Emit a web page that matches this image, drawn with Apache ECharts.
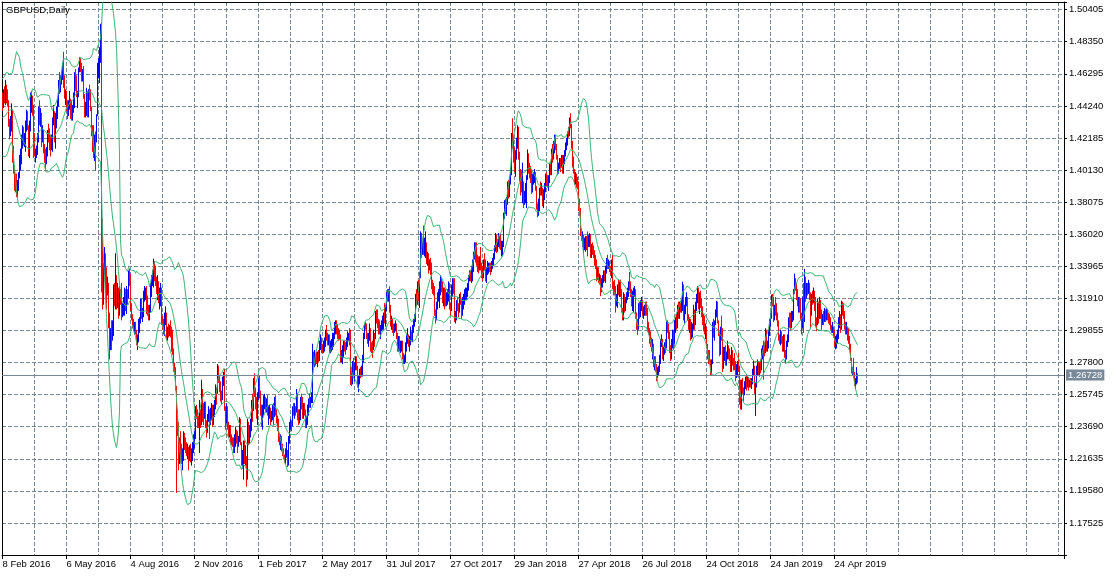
<!DOCTYPE html>
<html><head><meta charset="utf-8">
<script src="https://cdn.jsdelivr.net/npm/echarts@6/dist/echarts.min.js"></script>
<style>html,body{margin:0;padding:0;background:#fff}#c{width:1116px;height:576px}</style>
</head><body><div id="c"></div>
<script>
// Prices are stored in units of 0.0001 (e.g. 14425 = 1.4425)
// 19 daily closes before the first drawn bar (needed for the 20-period Bollinger bands)
const preCloses = [14430,14420,14390,14250,14270,14180,14160,14230,14260,14260,14340,14260,14350,14250,14420,14410,14600,14600,14500];

const closes = [
/*Feb16*/14425,14495,14470,14510,14500,14450,14310,14290,14300,14400,14140,14020,13960,13930,13860,13920,
/*Mar16*/13990,14060,14130,14220,14260,14190,14200,14270,14380,14290,14140,14280,14460,14480,14400,14210,14120,14130,14140,14230,14400,14360,14370,
/*Apr16*/14230,14250,14160,14110,14070,14120,14240,14235,14200,14190,14200,14330,14380,14210,14350,14400,14440,14580,14540,14580,14610,
/*May16*/14680,14600,14500,14510,14430,14380,14420,14450,14420,14370,14400,14440,14610,14600,14500,14505,14650,14700,14680,14620,14640,14490,
/*Jun16*/14380,14430,14520,14370,14520,14500,14410,14250,14240,14120,14200,14195,14360,14680,14690,14710,14880,13680,13220,13350,13440,13310,
/*Jul16*/13280,13285,13030,12940,12950,12945,12980,13260,13180,13340,13140,13260,13090,13230,13210,13100,13120,13130,13220,13170,13230,
/*Aug16*/13200,13340,13330,13120,13070,13050,13000,13010,12970,12910,12930,13040,13050,13170,13080,13090,13200,13230,13240,13190,13120,13070,13130,
/*Sep16*/13270,13300,13310,13410,13370,13300,13260,13300,13180,13220,13250,13060,13030,12990,13060,13090,12960,12980,12975,12990,12970,12965,
/*Oct16*/12840,12730,12720,12610,12430,12370,12190,12260,12190,12180,12190,12300,12250,12240,12200,12230,12180,12220,12180,12190,12240,
/*Nov16*/12260,12300,12480,12475,12390,12380,12400,12390,12590,12470,12450,12480,12400,12350,12420,12450,12410,12470,12480,12400,12480,12490,
/*Dec16*/12590,12580,12740,12680,12620,12560,12555,12660,12680,12490,12400,12490,12370,12330,12360,12280,12275,12270,12220,12290,12340,
/*Jan17*/12290,12260,12290,12410,12270,12160,12170,12200,12160,12180,12060,12400,12290,12340,12370,12490,12480,12670,12580,12550,12440,12560,
/*Feb17*/12630,12580,12480,12430,12490,12520,12540,12480,12520,12460,12470,12480,12410,12450,12460,12450,12540,12470,12410,12405,
/*Mar17*/12300,12270,12300,12230,12210,12170,12160,12190,12210,12140,12290,12380,12400,12370,12480,12475,12490,12460,12560,12430,12410,12460,12550,
/*Apr17*/12540,12450,12490,12470,12380,12410,12480,12520,12515,12550,12570,12840,12790,12810,12800,12790,12820,12815,12880,12940,
/*May17*/12870,12865,12870,12910,12970,12940,12935,12950,12880,12885,12900,12905,12950,13000,13030,12990,12960,12955,12945,12800,12840,12850,12890,
/*Jun17*/12885,12875,12920,12940,12950,12945,12740,12650,12740,12735,12760,12780,12750,12640,12660,12720,12710,12720,12790,12950,13020,13015,
/*Jul17*/12950,12930,12950,13000,12880,12875,12865,12950,12945,13100,13050,13040,13000,12990,13000,13030,13050,13080,13070,13130,13210,
/*Aug17*/13205,13230,13120,13030,13040,13000,12995,13000,13010,12950,12880,12890,12870,12880,12890,12830,12790,12800,12880,12930,12940,12910,12930,
/*Sep17*/12970,12950,12990,13040,13050,13200,13170,13270,13200,13330,13590,13500,13510,13500,13510,13540,13450,13460,13390,13410,13390,
/*Oct17*/13280,13260,13255,13100,13060,13150,13200,13230,13270,13290,13270,13190,13200,13190,13185,13200,13210,13270,13140,13130,13260,13280,
/*Nov17*/13275,13060,13070,13150,13140,13130,13190,13185,13100,13170,13190,13200,13220,13230,13270,13320,13340,13330,13350,13410,13460,13520,
/*Dec17*/13480,13420,13410,13390,13420,13380,13350,13330,13420,13415,13310,13370,13390,13400,13390,13380,13400,13420,13450,13510,
/*Jan18*/13590,13510,13550,13570,13565,13530,13535,13540,13720,13800,13790,13820,13900,13860,13950,13990,14230,14170,14150,14030,14100,14190,
/*Feb18*/14270,14120,13970,13960,13900,13910,13830,13850,13890,13960,14090,14030,14000,13970,13880,13950,13960,13990,13900,13770,
/*Mar18*/13760,13800,13890,13885,13890,13810,13850,13910,13970,13960,13950,13955,14020,14000,14140,14135,14140,14230,14160,14100,14020,14030,
/*Apr18*/14080,14060,14090,14020,14090,14120,14160,14180,14240,14235,14340,14300,14170,14090,14010,13950,13970,13930,13920,13770,13760,
/*May18*/13610,13590,13595,13530,13540,13560,13555,13540,13545,13560,13490,13510,13500,13470,13430,13425,13360,13365,13310,13330,13240,13290,13300,
/*Jun18*/13350,13330,13360,13420,13410,13415,13380,13370,13390,13270,13265,13250,13170,13175,13260,13255,13260,13230,13110,13080,13200,
/*Jul18*/13130,13170,13200,13230,13290,13280,13230,13200,13205,13230,13240,13090,13020,13000,13140,13110,13160,13165,13100,13110,13130,13120,
/*Aug18*/13115,13000,12990,12940,12930,12880,12890,12770,12790,12760,12700,12720,12740,12790,12900,12910,12830,12840,12890,12885,13020,13010,12960,
/*Sep18*/12860,12850,12920,12940,12920,13030,13040,13035,13120,13070,13150,13130,13140,13260,13070,13110,13170,13190,13070,13030,
/*Oct18*/13040,12970,12980,13000,13120,13050,13150,13180,13240,13150,13190,13170,13120,13050,13040,12970,12980,12890,12830,12820,12790,12730,12770,
/*Nov18*/13010,12970,13030,13090,13150,13040,12970,12840,12990,12980,12760,12840,12850,12780,12810,12880,12820,12815,12740,12840,12770,12750,
/*Dec18*/12745,12720,12740,12750,12740,12560,12490,12640,12590,12580,12630,12650,12640,12650,12640,12645,12640,12650,12720,12750,
/*Jan19*/12610,12640,12720,12790,12720,12760,12740,12840,12870,12865,12855,12990,12880,12890,12960,13040,13070,13200,13180,13080,13140,13120,
/*Feb19*/13080,13040,12940,12930,12950,12940,12900,12930,12830,12820,12900,12920,13050,13045,13035,13050,13070,13240,13300,13260,
/*Mar19*/13200,13160,13170,13140,13080,13000,13150,13070,13320,13250,13260,13255,13260,13200,13110,13200,13190,13220,13200,13040,13030,
/*Apr19*/13150,13080,13170,13080,13040,13060,13055,13090,13070,13080,13075,13050,13040,13000,12990,13010,12970,12900,12920,12930,12940,13030,
/*May19*/13060,13000,13160,13110,13090,13010,13000,13005,12960,12930,12880,12800,12720,12725,12700,12650,12660,12710,12672.8
];

const highs = [
/*Feb16*/14510,14530,14550,14590,14560,14530,14460,14340,14360,14440,14290,14170,14010,13990,13990,13950,
/*Mar16*/14000,14110,14150,14240,14300,14290,14250,14330,14400,14390,14300,14330,14510,14520,14490,14430,14250,14150,14170,14250,14420,14460,14410,
/*Apr16*/14380,14300,14270,14180,14150,14160,14270,14310,14280,14240,14240,14350,14430,14390,14380,14420,14470,14590,14640,14620,14650,
/*May16*/14700,14770,14620,14530,14520,14460,14460,14520,14470,14460,14430,14510,14640,14660,14620,14520,14670,14735,14730,14700,14660,14680,
/*Jun16*/14500,14450,14540,14450,14530,14560,14530,14420,14300,14300,14240,14260,14370,14700,14730,14800,14950,14960,13700,13420,13520,13480,
/*Jul16*/13390,13330,13290,13100,13000,13050,13050,13280,13290,13480,13340,13290,13260,13270,13250,13290,13160,13200,13260,13250,13270,
/*Aug16*/13250,13370,13380,13350,13160,13090,13060,13040,13040,12990,12960,13060,13070,13190,13190,13130,13240,13270,13260,13270,13210,13150,13150,
/*Sep16*/13290,13340,13370,13445,13430,13400,13330,13340,13300,13260,13290,13260,13080,13060,13100,13140,13100,13010,13030,13020,13050,13010,
/*Oct16*/12990,12870,12780,12750,12630,12480,12400,12300,12340,12260,12230,12340,12330,12300,12270,12260,12240,12250,12260,12230,12270,
/*Nov16*/12320,12340,12500,12510,12480,12440,12540,12480,12670,12610,12520,12530,12530,12410,12450,12500,12480,12490,12520,12510,12510,12540,
/*Dec16*/12640,12620,12770,12760,12700,12660,12600,12690,12720,12740,12500,12520,12500,12400,12380,12380,12320,12300,12300,12320,12370,
/*Jan17*/12350,12340,12310,12430,12420,12270,12220,12280,12280,12250,12090,12420,12400,12380,12420,12540,12580,12680,12710,12620,12560,12590,
/*Feb17*/12680,12700,12600,12510,12510,12570,12580,12560,12550,12570,12500,12510,12490,12470,12510,12520,12560,12570,12480,12440,
/*Mar17*/12420,12330,12320,12310,12260,12230,12190,12230,12270,12220,12310,12400,12420,12410,12500,12520,12520,12500,12610,12580,12480,12480,12560,
/*Apr17*/12580,12560,12520,12520,12480,12440,12510,12550,12580,12560,12590,12900,12850,12860,12840,12850,12850,12860,12920,12960,
/*May17*/12930,12900,12920,12940,12990,13020,12970,12960,12960,12920,12930,12970,12970,13040,13050,13050,13020,13000,12990,12960,12860,12890,12920,
/*Jun17*/12920,12910,12940,12980,12970,13000,12990,12750,12790,12810,12780,12820,12820,12760,12700,12740,12750,12760,12830,12970,13030,13040,
/*Jul17*/13030,12970,12970,13030,13000,12910,12920,12990,12970,13110,13120,13120,13060,13050,13020,13050,13080,13100,13160,13150,13230,
/*Aug17*/13250,13250,13268,13150,13080,13060,13030,13030,13050,13030,12970,12950,12950,12920,12920,12920,12840,12830,12910,12960,13000,12960,12950,
/*Sep17*/13010,12980,13020,13060,13090,13220,13250,13300,13310,13360,13620,13610,13560,13657,13580,13620,13550,13490,13480,13440,13450,
/*Oct17*/13420,13310,13290,13270,13120,13170,13230,13250,13300,13340,13320,13300,13260,13260,13250,13230,13250,13300,13290,13160,13280,13320,
/*Nov17*/13320,13320,13110,13180,13200,13160,13220,13230,13180,13200,13220,13250,13260,13260,13290,13340,13370,13370,13400,13440,13490,13550,
/*Dec17*/13550,13550,13470,13460,13460,13520,13420,13400,13440,13480,13440,13390,13430,13420,13420,13420,13430,13450,13480,13530,
/*Jan18*/13610,13600,13570,13610,13590,13600,13560,13560,13740,13820,13830,13840,13940,13950,13970,14030,14250,14345,14230,14160,14140,14220,
/*Feb18*/14300,14290,14130,14020,14010,14060,13940,13880,13930,13980,14145,14120,14060,14040,14020,13990,14000,14020,14000,13910,
/*Mar18*/13800,13830,13900,13940,13930,13900,13890,13930,13990,14000,13980,13980,14060,14070,14150,14180,14200,14240,14240,14180,14110,14060,
/*Apr18*/14090,14090,14110,14110,14110,14140,14190,14220,14260,14290,14350,14377,14310,14200,14100,14020,14000,13990,13970,13940,13830,
/*May18*/13770,13640,13620,13600,13580,13590,13590,13620,13600,13610,13600,13540,13550,13530,13500,13470,13440,13390,13390,13350,13340,13320,13340,
/*Jun18*/13370,13370,13400,13450,13470,13440,13430,13400,13440,13470,13300,13310,13270,13220,13280,13310,13300,13310,13250,13130,13230,
/*Jul18*/13220,13200,13230,13260,13300,13360,13300,13250,13240,13260,13270,13250,13100,13060,13160,13170,13180,13200,13180,13140,13150,13170,
/*Aug18*/13170,13130,13040,13000,12980,12940,12930,12900,12820,12820,12770,12750,12760,12830,12930,12960,12930,12880,12910,12930,13050,13050,13030,
/*Sep18*/12980,12890,12930,12990,12990,13050,13070,13090,13150,13170,13170,13170,13190,13298,13280,13150,13200,13230,13200,13090,
/*Oct18*/13070,13060,13040,13030,13150,13120,13170,13220,13270,13260,13230,13240,13190,13140,13090,13080,13030,13010,12900,12860,12860,12800,12800,
/*Nov18*/13040,13060,13050,13120,13175,13170,13050,12980,13010,13080,13000,12880,12880,12890,12850,12920,12890,12870,12830,12880,12860,12810,
/*Dec18*/12840,12790,12770,12790,12840,12760,12670,12670,12680,12620,12660,12690,12700,12690,12680,12670,12680,12680,12740,12790,
/*Jan19*/12760,12650,12760,12800,12790,12780,12800,12870,12890,12920,12910,13000,12990,12920,12990,13060,13100,13215,13220,13200,13150,13200,
/*Feb19*/13160,13100,13050,12960,12990,12980,12950,12960,12960,12860,12920,12960,13070,13100,13100,13110,13110,13250,13350,13320,
/*Mar19*/13290,13250,13200,13200,13190,13100,13200,13290,13380,13330,13290,13290,13310,13290,13230,13220,13240,13260,13240,13200,13070,
/*Apr19*/13190,13170,13200,13180,13120,13090,13110,13130,13120,13130,13120,13100,13090,13070,13020,13040,13010,12990,12950,12960,12990,13070,
/*May19*/13110,13090,13176,13170,13160,13110,13040,13040,13010,13000,12950,12900,12810,12750,12810,12720,12680,12750,12710
];

const lows = [
/*Feb16*/14390,14410,14440,14430,14440,14420,14290,14210,14230,14260,14060,13990,13880,13870,13840,13830,
/*Mar16*/13880,13960,14010,14050,14150,14170,14160,14130,14260,14270,14100,14090,14260,14380,14360,14090,14100,14060,14090,14110,14190,14300,14290,
/*Apr16*/14160,14190,14120,14060,14005,14050,14100,14190,14140,14100,14140,14130,14300,14190,14150,14280,14340,14420,14500,14510,14560,
/*May16*/14590,14540,14470,14430,14390,14340,14360,14400,14340,14330,14330,14380,14410,14520,14480,14410,14480,14640,14640,14580,14580,14470,
/*Jun16*/14350,14350,14360,14350,14350,14460,14390,14230,14130,14090,14070,14010,14190,14400,14600,14570,14700,13230,13120,13150,13330,13200,
/*Jul16*/13120,13210,13000,12800,12860,12860,12920,12950,13140,13120,13120,13130,13060,13080,13150,13050,13070,13080,13080,13110,13090,
/*Aug16*/13150,13190,13270,13110,13050,13000,12980,12960,12960,12890,12860,12910,12970,13030,13060,13040,13070,13170,13180,13090,13080,13050,13050,
/*Sep16*/13100,13200,13270,13260,13300,13270,13220,13180,13160,13120,13140,13020,12990,12960,12950,13020,12930,12920,12940,12950,12940,12850,
/*Oct16*/12830,12720,12690,12600,11945,12310,12090,12130,12140,12130,12090,12150,12220,12200,12180,12160,12090,12150,12140,12120,12150,
/*Nov16*/12200,12230,12290,12420,12360,12360,12200,12360,12380,12400,12380,12420,12360,12300,12330,12400,12290,12380,12410,12370,12380,12430,
/*Dec16*/12480,12510,12590,12650,12590,12530,12510,12540,12630,12470,12350,12390,12350,12300,12300,12260,12250,12240,12200,12200,12240,
/*Jan17*/12260,12200,12240,12270,12250,12120,12100,12030,12130,12120,11985,12030,12250,12260,12300,12340,12400,12470,12560,12480,12420,12380,
/*Feb17*/12540,12550,12440,12370,12350,12440,12480,12460,12460,12440,12380,12420,12380,12400,12410,12380,12430,12440,12390,12340,
/*Mar17*/12270,12250,12220,12210,12180,12160,12140,12130,12170,12110,12120,12260,12350,12340,12370,12440,12420,12440,12460,12410,12380,12390,12410,
/*Apr17*/12480,12420,12420,12440,12360,12360,12380,12440,12490,12490,12520,12520,12760,12750,12760,12770,12750,12780,12790,12860,
/*May17*/12840,12840,12840,12850,12880,12920,12890,12890,12840,12840,12850,12860,12880,12930,12960,12960,12930,12920,12930,12780,12780,12770,12810,
/*Jun17*/12850,12830,12860,12880,12920,12890,12635,12630,12640,12690,12660,12730,12730,12620,12590,12640,12680,12690,12690,12780,12930,12990,
/*Jul17*/12930,12900,12880,12920,12850,12840,12810,12860,12880,12930,13030,13000,12960,12960,12930,12980,12990,12990,13030,13010,13110,
/*Aug17*/13170,13170,13100,13010,12990,12970,12950,12970,12980,12930,12850,12850,12850,12840,12850,12800,12770,12770,12780,12850,12900,12880,12850,
/*Sep17*/12890,12920,12910,12970,13010,13040,13140,13150,13170,13130,13320,13450,13470,13470,13460,13450,13410,13400,13350,13370,13340,
/*Oct17*/13250,13220,13210,13080,13030,13050,13120,13170,13130,13210,13230,13160,13140,13120,13140,13140,13150,13170,13120,13080,13110,13200,
/*Nov17*/13220,13040,13030,13050,13110,13070,13100,13150,13060,13080,13120,13150,13180,13180,13200,13240,13300,13300,13290,13300,13360,13440,
/*Dec17*/13420,13400,13360,13350,13370,13370,13320,13300,13320,13370,13300,13290,13340,13350,13360,13340,13360,13380,13400,13440,
/*Jan18*/13490,13480,13490,13520,13510,13500,13460,13460,13520,13700,13730,13720,13790,13830,13840,13920,13980,14150,14060,14000,13970,14080,
/*Feb18*/14150,14080,13940,13850,13870,13800,13770,13790,13800,13770,13950,13990,13960,13930,13860,13870,13920,13930,13880,13760,
/*Mar18*/13711,13720,13750,13850,13850,13780,13770,13820,13870,13910,13900,13880,13930,13980,13980,14060,14080,14120,14140,14080,13980,13990,
/*Apr18*/14020,14000,14030,13990,13990,14050,14100,14140,14170,14220,14230,14280,14150,14030,13990,13920,13920,13900,13890,13750,13720,
/*May18*/13590,13560,13520,13480,13500,13490,13500,13460,13520,13520,13450,13450,13470,13450,13400,13380,13300,13310,13290,13280,13205,13230,13260,
/*Jun18*/13290,13300,13290,13350,13380,13380,13360,13340,13320,13250,13210,13210,13100,13140,13130,13210,13200,13200,13100,13050,13050,
/*Jul18*/13100,13110,13160,13180,13200,13240,13200,13140,13110,13100,13200,13060,12990,12957,12990,13060,13070,13110,13080,13060,13080,13080,
/*Aug18*/13080,12980,12960,12900,12880,12850,12800,12750,12730,12720,12660,12680,12700,12720,12770,12880,12800,12790,12830,12840,12870,12970,12930,
/*Sep18*/12840,12790,12800,12870,12860,12900,12970,12990,13000,13060,13060,13100,13100,13110,13050,13030,13090,13140,13050,12990,
/*Oct18*/12970,12920,12930,12940,12990,12990,13020,13110,13160,13120,13090,13130,13070,13020,12980,12960,12930,12870,12800,12770,12780,12700,12700,
/*Nov18*/12770,12940,12920,13020,13070,13030,12950,12820,12830,12920,12720,12740,12790,12760,12760,12800,12800,12790,12720,12720,12760,12730,
/*Dec18*/12730,12660,12680,12690,12720,12510,12480,12477,12580,12530,12570,12610,12600,12620,12600,12620,12620,12610,12640,12700,
/*Jan19*/12580,12438,12620,12700,12700,12690,12710,12730,12800,12670,12820,12840,12850,12850,12870,12950,13010,13060,13140,13040,13050,13080,
/*Feb19*/13050,13010,12920,12900,12890,12900,12850,12850,12810,12773,12800,12880,12910,13000,12990,13000,13040,13050,13220,13240,
/*Mar19*/13180,13140,13100,13100,13050,12960,13000,12970,13040,13170,13190,13210,13220,13180,13000,13080,13150,13160,13110,13010,12980,
/*Apr19*/13020,13030,13060,13060,12990,13020,13020,13040,13040,13050,13050,13030,13020,12990,12970,12970,12940,12880,12865,12870,12900,12930,
/*May19*/13000,12970,12990,13080,13060,12990,12960,12960,12920,12900,12860,12790,12710,12700,12680,12630,12610,12640,12650
];

const tickLabels = ['8 Feb 2016','6 May 2016','4 Aug 2016','2 Nov 2016','1 Feb 2017','2 May 2017','31 Jul 2017',
  '27 Oct 2017','29 Jan 2018','27 Apr 2018','26 Jul 2018','24 Oct 2018','24 Jan 2019','24 Apr 2019'];
const currentPrice = 1.26728;
const title = 'GBPUSD,Daily';

// ---- build ----
const P = v => v / 10000;
const SLOTS = 1062;          // bar slots across the window (right part is empty chart shift)
const LABEL_EVERY = 64, GRID_EVERY = 32;
const cats = [];
for (let i = 0; i < SLOTS; i++) cats.push(String(i));

const ohlc = closes.map((c, i) => {
  const o = i === 0 ? preCloses[preCloses.length - 1] : closes[i - 1];
  const h = Math.max(highs[i], o, c), l = Math.min(lows[i], o, c);
  return [P(o), P(c), P(l), P(h)];
});

const all = preCloses.concat(closes);
const bbUp = [], bbMid = [], bbDn = [];
for (let i = 0; i < closes.length; i++) {
  const j = i + preCloses.length;
  const w = all.slice(j - 19, j + 1);
  const m = w.reduce((a, b) => a + b, 0) / w.length;
  const sd = Math.sqrt(w.reduce((a, b) => a + (b - m) * (b - m), 0) / w.length);
  bbMid.push(P(m)); bbUp.push(P(m + 2 * sd)); bbDn.push(P(m - 2 * sd));
}

const FONT = "'Liberation Sans', Arial, sans-serif";
const GRIDC = '#778899';
const DASH = [4, 2];
const YMIN = 1.15470, YMAX = 1.50896, YSTEP = 0.02055;
const bandStyle = { color: '#3cb371', width: 1 };
const bandSeries = (d) => ({ type: 'line', data: d, showSymbol: false, symbol: 'none', silent: true,
  lineStyle: bandStyle, z: 3, animation: false });
const frameAxis = { axisTick: { show: false }, axisLabel: { show: false }, splitLine: { show: false },
  axisLine: { show: true, onZero: false, lineStyle: { color: '#000', width: 1 } } };

const chart = echarts.init(document.getElementById('c'), null, { renderer: 'canvas' });
chart.setOption({
  animation: false,
  backgroundColor: '#ffffff',
  title: { text: title, left: 6, top: 5, padding: 0,
    textStyle: { fontSize: 9.5, fontWeight: 'normal', color: '#000', fontFamily: FONT } },
  grid: { left: 2, right: 52, top: 2, bottom: 21, containLabel: false, outerBoundsMode: 'none' },
  xAxis: [{
    type: 'category', data: cats, boundaryGap: true, position: 'bottom',
    axisLine: { show: true, onZero: false, lineStyle: { color: '#000', width: 1 } },
    axisTick: { show: true, length: 4, lineStyle: { color: '#000' },
      interval: (i) => i % LABEL_EVERY === 0 && i / LABEL_EVERY < tickLabels.length },
    axisLabel: { show: true, align: 'left', margin: 4, color: '#000', fontSize: 9.5, fontFamily: FONT,
      interval: (i) => i % LABEL_EVERY === 0 && i / LABEL_EVERY < tickLabels.length,
      formatter: (v, i) => tickLabels[i / LABEL_EVERY] || '' },
    splitLine: { show: true, interval: (i) => i > 0 && i % GRID_EVERY === 0,
      lineStyle: { color: GRIDC, width: 1, type: DASH } }
  }, Object.assign({ type: 'category', data: cats, boundaryGap: true, position: 'top' }, frameAxis)],
  yAxis: [{
    type: 'value', position: 'right', min: YMIN, max: YMAX, interval: YSTEP, scale: true,
    axisLine: { show: true, lineStyle: { color: '#000', width: 1 } },
    axisTick: { show: true, length: 3, lineStyle: { color: '#000' } },
    axisLabel: { color: '#000', fontSize: 9.5, fontFamily: FONT, margin: 5,
      formatter: (v) => (v < 1.16 || v > 1.505) ? '' : v.toFixed(5) },
    splitLine: { show: true, lineStyle: { color: GRIDC, width: 1, type: DASH } }
  }, Object.assign({ type: 'value', position: 'left', min: YMIN, max: YMAX, interval: YSTEP, scale: true }, frameAxis)],
  series: [
    { type: 'line', data: [], silent: true, z: 1, symbol: 'none',
      markLine: { silent: true, symbol: ['none', 'none'], animation: false,
        lineStyle: { color: GRIDC, type: 'solid', width: 1 },
        label: { show: true, position: 'end', distance: 2, formatter: currentPrice.toFixed(5),
          backgroundColor: GRIDC, color: '#fff', fontSize: 9.5, fontFamily: FONT, padding: [1, 2, 0, 2] },
        data: [{ yAxis: currentPrice }] } },
    { type: 'candlestick', data: ohlc, large: true, largeThreshold: 100, z: 2,
      itemStyle: { color: '#0000ff', color0: '#ff0000', borderColor: '#0000ff', borderColor0: '#ff0000',
        borderColorDoji: '#0000ff', borderWidth: 1 } },
    bandSeries(bbUp), bandSeries(bbMid), bandSeries(bbDn)
  ]
});
</script></body></html>
